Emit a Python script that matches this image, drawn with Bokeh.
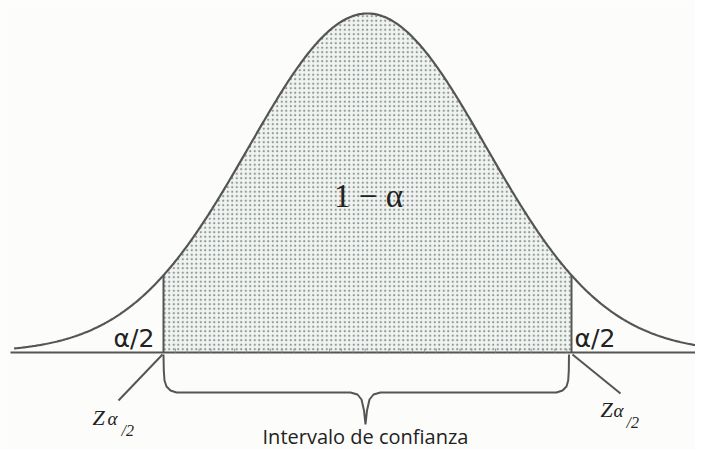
import numpy as np
from bokeh.plotting import figure
from bokeh.models import Range1d
from bokeh.core.properties import value
from bokeh.embed import file_html
from bokeh.resources import INLINE

# ---- data ----
z_crit = 1.72                      # critical value bounding the interval
curve_left, curve_right = -2.98, 2.90
central_label = "1 − α"
tail_label = "α/2"
z_label = "Z"
z_sub_alpha = "α"
z_sub_two = "/2"
interval_label = "Intervalo de confianza"

# pixel geometry of the reference (used only to set ranges / annotation placement)
CX, SIG, BASE, YS = 367.0, 118.6, 352.0, 849.8
def zx(px):
    return (px - CX) / SIG
def dy(py):
    return (BASE - py) / YS

W, H = 695, 449
p = figure(width=W, height=H, output_backend="svg", toolbar_location=None,
           x_range=Range1d(zx(0), zx(W)), y_range=Range1d(dy(H), dy(0)),
           min_border=0, background_fill_color="#fcfcfa", border_fill_color="#fcfcfa")
p.axis.visible = False
p.grid.visible = False
p.outline_line_color = None

def pdf(x):
    return np.exp(-x ** 2 / 2) / np.sqrt(2 * np.pi)

LINE = "#555555"
TXT = "#222222"

# shaded central area
xs = np.linspace(-z_crit, z_crit, 300)
p.varea(x=xs, y1=np.zeros_like(xs), y2=pdf(xs), fill_color="#f1f3f1",
        hatch_pattern="dot", hatch_color="#8a9895", hatch_scale=4.5, hatch_weight=2.2)

# curve
xc = np.linspace(curve_left, curve_right, 600)
p.line(xc, pdf(xc), line_color=LINE, line_width=2.2)

# baseline
p.line([zx(10), zx(711)], [0, 0], line_color=LINE, line_width=2.2)

# vertical boundaries
for s in (-1, 1):
    p.line([s * z_crit, s * z_crit], [0, pdf(z_crit)], line_color=LINE, line_width=2)

# small tick marks along baseline inside shading
tx = np.arange(-z_crit + 0.1, z_crit, 0.1)
p.segment(x0=tx, y0=np.zeros_like(tx), x1=tx, y1=np.full_like(tx, dy(348)),
          line_color="#8f9c99", line_width=1)

# bracket
bx = [163, 163.3, 164, 166, 170, 176, 350, 357, 361, 363.5, 365, 366.5, 369, 373, 380,
      556, 562, 566, 567.7, 568.3, 568.5]
by = [354, 370, 380, 386, 390, 392, 392, 394, 399, 410, 424, 410, 399, 394, 392,
      392, 390, 386, 380, 370, 354]
p.line([zx(v) for v in bx], [dy(v) for v in by], line_color=LINE, line_width=2)

# pointer lines to Z labels
p.line([zx(162), zx(118)], [dy(354), dy(400)], line_color=LINE, line_width=2)
p.line([zx(572), zx(620)], [dy(354), dy(393)], line_color=LINE, line_width=2)

# texts
p.text(x=[zx(368)], y=[dy(195)], text=[central_label], text_align="center",
       text_baseline="alphabetic", text_font=value("Liberation Serif"),
       text_font_size="33px", text_color=TXT)
p.text(x=[zx(113), zx(574)], y=[dy(338), dy(338)], text=[tail_label, tail_label],
       text_align="left", text_baseline="alphabetic", text_font=value("DejaVu Sans"),
       text_font_size="25px", text_color=TXT)
p.text(x=[zx(92), zx(600)], y=[dy(417), dy(409)], text=[z_label, z_label],
       text_align="left", text_baseline="alphabetic", text_font=value("Liberation Serif"),
       text_font_style="italic", text_font_size="22px", text_color=TXT)
p.text(x=[zx(107), zx(613)], y=[dy(418), dy(410)], text=[z_sub_alpha, z_sub_alpha],
       text_align="left", text_baseline="alphabetic", text_font=value("Liberation Serif"),
       text_font_style="italic", text_font_size="19px", text_color=TXT)
p.text(x=[zx(121), zx(626)], y=[dy(430), dy(422)], text=[z_sub_two, z_sub_two],
       text_align="left", text_baseline="alphabetic", text_font=value("Liberation Serif"),
       text_font_style="italic", text_font_size="16px", text_color=TXT)
p.text(x=[zx(365)], y=[dy(436)], text=[interval_label], text_align="center",
       text_baseline="alphabetic", text_font=value("Open Sans"),
       text_font_size="20px", text_color=TXT)

open("out.html", "w").write(file_html(p, INLINE))
